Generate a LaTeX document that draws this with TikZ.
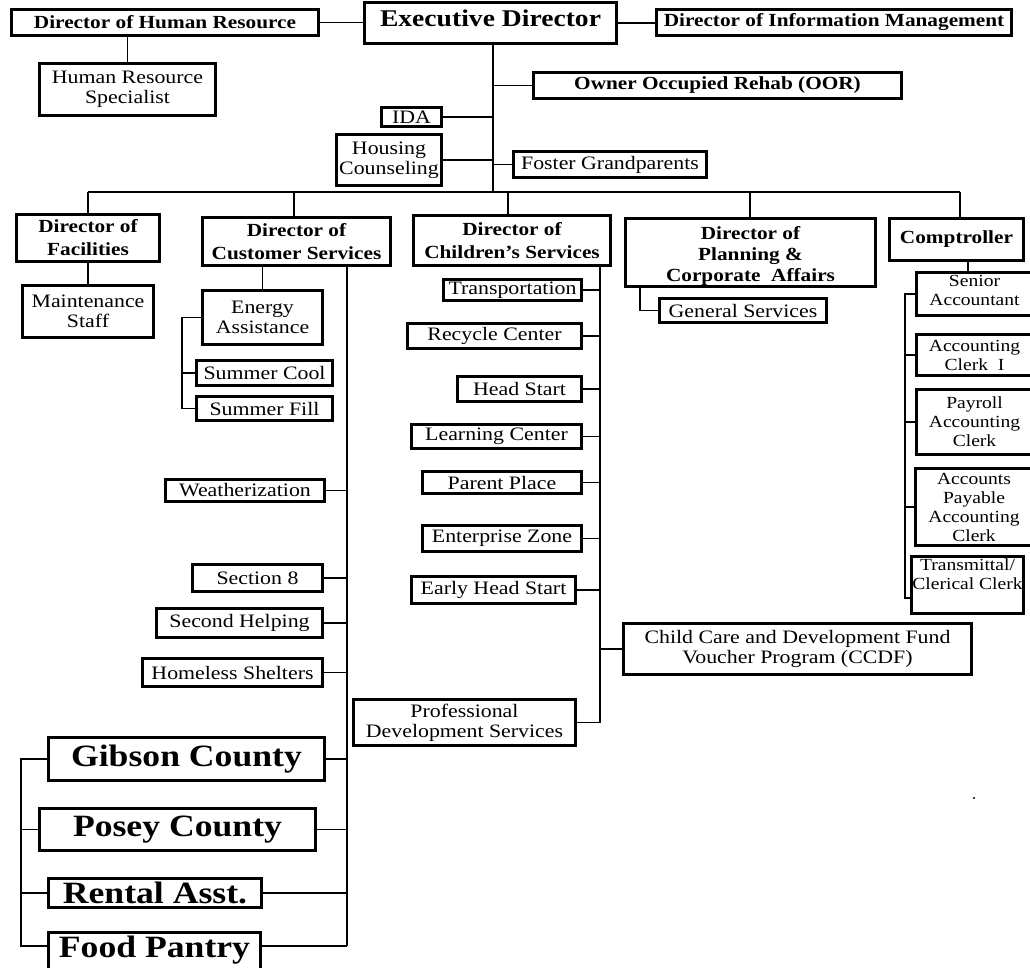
\documentclass[tikz,border=0pt]{standalone}
\usepackage{fontspec}
\setmainfont{Liberation Serif}[FakeStretch=1.15]
\newcommand\myfs[2]{\fontsize{#1}{#2}\selectfont}
\tikzset{
  box/.style={draw, line width=3.2pt, inner sep=0pt},
  reg/.style={font=\myfs{19}{20}, align=center, inner sep=0pt},
  bld/.style={font=\bfseries\myfs{18.5}{23}, align=center, inner sep=0pt},
  bldp/.style={font=\bfseries\myfs{18.5}{21}, align=center, inner sep=0pt, yshift=-3pt},
  edf/.style={font=\bfseries\myfs{24}{26}, align=center, inner sep=0pt, yshift=5pt},
  sml/.style={font=\myfs{17}{19}, align=center, inner sep=0pt},
  smls/.style={sml, yshift=4pt},
  big/.style={font=\bfseries\myfs{31}{33}, align=center, inner sep=0pt},
  bigf/.style={big, yshift=3pt},
  conn/.style={line width=1.5pt},
}
\newcommand\obox[7][reg]{%
  \node[box, minimum width={#4-#3-3.2}, minimum height={#6-#5-3.2}] (#2) at ({(#3+#4)/2},{(#5+#6)/2}) {};
  \node[#1] (#2-t) at (#2.center) {#7};}
\begin{document}
\begin{tikzpicture}[x=1pt,y=-1pt]
\useasboundingbox (0,0) rectangle (1030,967);
\clip (0,0) rectangle (1030,967);
\fill[white] (0,0) rectangle (1030,967);

% top row
\obox[bld]{hrdir}{10}{320}{8}{37}{Director of Human Resource}
\obox[edf]{ed}{363}{618}{1}{45}{Executive Director}
\obox[bld]{info}{655}{1013}{8}{37}{Director of Information Management}
\obox{hrspec}{38}{217}{62}{117}{Human Resource\\Specialist}
\obox[bld]{oor}{532}{903}{71}{100}{Owner Occupied Rehab (OOR)}
\obox{ida}{380}{443}{106}{128}{IDA}
\obox{housing}{335}{443}{133}{187}{Housing\\Counseling}
\obox{foster}{512}{708}{150}{179}{Foster Grandparents}

% directors
\obox[bld]{facil}{15}{161}{213}{263}{Director of\\Facilities}
\obox[bld]{custsvc}{201}{392}{216}{267}{Director of\\Customer Services}
\obox[bld]{childsvc}{412}{612}{214}{267}{Director of\\Children’s Services}
\obox[bldp]{planning}{624}{877}{217}{288}{Director of\\Planning \&\\Corporate~~Affairs}
\obox[bld]{comp}{888}{1025}{217}{262}{Comptroller}

% facilities
\obox{maint}{21}{155}{284}{339}{Maintenance\\Staff}

% customer services
\obox{energy}{201}{324}{289}{346}{Energy\\Assistance}
\obox{scool}{195}{334}{359}{387}{Summer Cool}
\obox{sfill}{195}{334}{395}{422}{Summer Fill}
\obox{weather}{164}{326}{478}{503}{Weatherization}
\obox{sec8}{191}{324}{563}{593}{Section 8}
\obox{second}{155}{324}{607}{639}{Second Helping}
\obox{homeless}{141}{324}{657}{688}{Homeless Shelters}
\obox[big]{gibson}{47}{326}{736}{782}{Gibson County}
\obox[big]{posey}{38}{317}{807}{852}{Posey County}
\obox[big]{rental}{47}{263}{877}{909}{Rental Asst.}
\obox[bigf]{food}{47}{262}{931}{975}{Food Pantry}

% children's services
\obox{transp}{442}{583}{278}{302}{Transportation}
\obox{recycle}{406}{583}{322}{350}{Recycle Center}
\obox{headstart}{456}{583}{375}{403}{Head Start}
\obox{learning}{410}{583}{423}{450}{Learning Center}
\obox{parent}{421}{583}{470}{495}{Parent Place}
\obox{enterprise}{421}{583}{524}{553}{Enterprise Zone}
\obox{earlyhs}{410}{577}{575}{605}{Early Head Start}
\obox{ccdf}{622}{973}{622}{676}{Child Care and Development Fund\\Voucher Program (CCDF)}
\obox{profdev}{352}{577}{698}{747}{Professional\\Development Services}

% planning
\obox{gensvc}{658}{828}{297}{324}{General Services}

% comptroller
\obox[smls]{senior}{915}{1034}{271}{317}{Senior\\Accountant}
\obox[sml]{acct}{915}{1034}{333}{377}{Accounting\\Clerk~~I}
\obox[sml]{payroll}{915}{1034}{388}{456}{Payroll\\Accounting\\Clerk}
\obox[sml]{ap}{914}{1034}{467}{547}{Accounts\\Payable\\Accounting\\Clerk}
\node[box, minimum width={1025-910-3.2}, minimum height={615-555-3.2}] (transm) at (967.5,585) {};
\node[sml, anchor=north] (transm-t) at ([yshift=-3pt]transm.north) {Transmittal/\\Clerical Clerk};

% coordinates
\coordinate (trunk) at (493,192);
\coordinate (bus) at (0,192);
\coordinate (dF) at (88,0);
\coordinate (dC) at (294,0);
\coordinate (dK) at (508,0);
\coordinate (dP) at (750,0);
\coordinate (dM) at (960,0);
\coordinate (eb) at (182,0);
\coordinate (cst) at (347,0);
\coordinate (foodstub) at (0,946);
\coordinate (lb) at (21,0);
\coordinate (ct) at (600,0);
\coordinate (pg) at (640,0);
\coordinate (cm) at (968,0);
\coordinate (cb) at (905,0);
\coordinate (tstub) at (0,598);
\coordinate (dot) at (974,798);

% connectors top
\draw[conn] (hrdir.east) -- (hrdir.east -| ed.west);
\draw[conn] (ed.east) -- (ed.east -| info.west);
\draw[conn] (hrdir.south -| hrspec.north) -- (hrspec.north);
\draw[conn] (ed.south -| trunk) -- (trunk);
\draw[conn] (oor.west) -- (oor.west -| trunk);
\draw[conn] (ida.east) -- (ida.east -| trunk);
\draw[conn] (housing.east) -- (housing.east -| trunk);
\draw[conn] (foster.west) -- (foster.west -| trunk);

% bus and drops
\draw[conn] (dF |- bus) -- (dM |- bus);
\draw[conn] (dF |- bus) -- (dF |- facil.north);
\draw[conn] (dC |- bus) -- (dC |- custsvc.north);
\draw[conn] (dK |- bus) -- (dK |- childsvc.north);
\draw[conn] (dP |- bus) -- (dP |- planning.north);
\draw[conn] (dM |- bus) -- (dM |- comp.north);

% facilities
\draw[conn] (facil.south) -- (maint.north);

% customer services
\draw[conn] (energy.north) -- (energy.north |- custsvc.south);
\draw[conn] (energy.west) -| (eb |- sfill.west) -- (sfill.west);
\draw[conn] (scool.west) -- (scool.west -| eb);
\draw[conn] (cst |- custsvc.south) -- (cst |- foodstub);
\foreach \n in {weather,sec8,second,homeless,gibson,posey,rental}
  \draw[conn] (\n.east) -- (\n.east -| cst);
\draw[conn] (food.east |- foodstub) -- (cst |- foodstub);
\draw[conn] (gibson.west) -| (lb |- foodstub) -- (food.west |- foodstub);
\draw[conn] (posey.west) -- (posey.west -| lb);
\draw[conn] (rental.west) -- (rental.west -| lb);

% children's services
\draw[conn] (ct |- childsvc.south) -- (ct |- profdev.east);
\foreach \n in {transp,recycle,headstart,learning,parent,enterprise,earlyhs,profdev}
  \draw[conn] (\n.east) -- (\n.east -| ct);
\draw[conn] (ccdf.west) -- (ccdf.west -| ct);

% planning
\draw[conn] (pg |- planning.south) |- (gensvc.west);

% comptroller
\draw[conn] (cm |- comp.south) -- (cm |- senior.north);
\draw[conn] (senior.west) -| (cb |- tstub) -- (transm.west |- tstub);
\foreach \n in {acct,payroll,ap}
  \draw[conn] (\n.west) -- (\n.west -| cb);

\fill (dot) circle (1.2pt);
\end{tikzpicture}
\end{document}
